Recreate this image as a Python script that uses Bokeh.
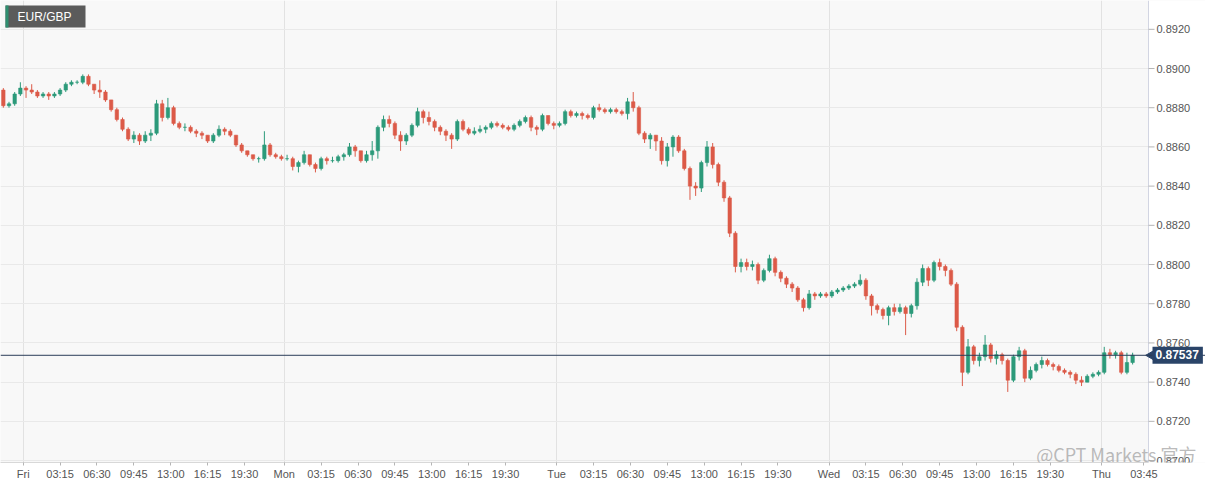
import math
import pandas as pd
from bokeh.plotting import figure
from bokeh.models import (FixedTicker, Span, Label, BoxAnnotation,
                          ColumnDataSource, Range1d, CustomJSTickFormatter)
from bokeh.core.properties import value
from bokeh.embed import file_html
from bokeh.resources import INLINE

symbol = "EUR/GBP"
last_price = 0.87537
first_open = 0.8889
watermark = "@CPT Markets 官方"

close = [
    0.8881, 0.8882, 0.8887, 0.8890, 0.8889, 0.8888, 0.8886, 0.8887, 0.8886, 0.8887,
    0.8889, 0.8892, 0.8893, 0.8893, 0.8896, 0.8892, 0.8889, 0.8888, 0.8884, 0.8879,
    0.8874, 0.8869, 0.8864, 0.8866, 0.8863, 0.8866, 0.8867, 0.8882, 0.8875, 0.8880,
    0.8872, 0.8870, 0.8870, 0.8868, 0.8867, 0.8866, 0.8863, 0.8866, 0.8869, 0.8868,
    0.8866, 0.8861, 0.8858, 0.8856, 0.8854, 0.8854, 0.8861, 0.8856, 0.8855, 0.8854,
    0.8854, 0.8850, 0.8852, 0.8856, 0.8851, 0.8849, 0.8854, 0.8853, 0.8853, 0.8855,
    0.8856, 0.8860, 0.8858, 0.8853, 0.8856, 0.8858, 0.8870, 0.8874, 0.8872, 0.8866,
    0.8863, 0.8866, 0.8871, 0.8878, 0.8875, 0.8873, 0.8870, 0.8868, 0.8866, 0.8864,
    0.8873, 0.8869, 0.8867, 0.8868, 0.8869, 0.8870, 0.8872, 0.8871, 0.8870, 0.8869,
    0.8871, 0.8873, 0.8875, 0.8870, 0.8869, 0.8876, 0.8872, 0.8871, 0.8872, 0.8878,
    0.8876, 0.8877, 0.8876, 0.8875, 0.8880, 0.8879, 0.8878, 0.8879, 0.8878, 0.8877,
    0.8883, 0.8880, 0.8867, 0.8864, 0.8866, 0.8863, 0.8853, 0.8860, 0.8865, 0.8858,
    0.8849, 0.8840, 0.8839, 0.8852, 0.8860, 0.8851, 0.8842, 0.8834, 0.8816, 0.8799,
    0.8801, 0.8799, 0.8800, 0.8792, 0.8797, 0.8803, 0.8796, 0.8793, 0.8790, 0.8788,
    0.8782, 0.8778, 0.8785, 0.8784, 0.8785, 0.8784, 0.8786, 0.8787, 0.8788, 0.8789,
    0.8790, 0.8792, 0.8784, 0.8779, 0.8777, 0.8774, 0.8778, 0.8776, 0.8778, 0.8775,
    0.8779, 0.8791, 0.8798, 0.8792, 0.8801, 0.8799, 0.8797, 0.8790, 0.8768, 0.8745,
    0.8758, 0.8751, 0.8753, 0.8759, 0.8752, 0.8754, 0.8751, 0.8741, 0.8753, 0.8756,
    0.8742, 0.8746, 0.8749, 0.8751, 0.8749, 0.8748, 0.8746, 0.8745, 0.8744, 0.8741,
    0.8740, 0.8743, 0.8744, 0.8745, 0.8755, 0.8754, 0.8755, 0.8745, 0.8750, 0.87537,
]

high = [
    0.8890, 0.8883, 0.8888, 0.8893, 0.8891, 0.8892, 0.8889, 0.8888, 0.8888, 0.8888,
    0.8890, 0.8893, 0.8894, 0.8894, 0.8897, 0.8897, 0.8892, 0.8894, 0.8889, 0.8884,
    0.8880, 0.8875, 0.8870, 0.8868, 0.8867, 0.8868, 0.8869, 0.8884, 0.8884, 0.8885,
    0.8881, 0.8873, 0.8872, 0.8871, 0.8869, 0.8868, 0.8866, 0.8867, 0.8871, 0.8870,
    0.8869, 0.8866, 0.8862, 0.8858, 0.8856, 0.8855, 0.8868, 0.8862, 0.8857, 0.8856,
    0.8856, 0.8855, 0.8853, 0.8858, 0.8856, 0.8852, 0.8855, 0.8855, 0.8855, 0.8856,
    0.8857, 0.8862, 0.8861, 0.8858, 0.8858, 0.8863, 0.8871, 0.8876, 0.8876, 0.8873,
    0.8868, 0.8867, 0.8872, 0.8880, 0.8879, 0.8878, 0.8874, 0.8871, 0.8869, 0.8867,
    0.8874, 0.8874, 0.8870, 0.8870, 0.8871, 0.8871, 0.8873, 0.8873, 0.8872, 0.8871,
    0.8872, 0.8874, 0.8876, 0.8876, 0.8871, 0.8877, 0.8876, 0.8873, 0.8873, 0.8879,
    0.8879, 0.8878, 0.8878, 0.8877, 0.8881, 0.8882, 0.8880, 0.8880, 0.8880, 0.8879,
    0.8885, 0.8888, 0.8881, 0.8868, 0.8867, 0.8866, 0.8865, 0.8862, 0.8866, 0.8866,
    0.8859, 0.8850, 0.8842, 0.8853, 0.8863, 0.8862, 0.8852, 0.8843, 0.8835, 0.8817,
    0.8803, 0.8803, 0.8802, 0.8801, 0.8798, 0.8805, 0.8804, 0.8797, 0.8794, 0.8791,
    0.8789, 0.8783, 0.8787, 0.8786, 0.8786, 0.8786, 0.8787, 0.8788, 0.8789, 0.8790,
    0.8791, 0.8795, 0.8793, 0.8785, 0.8780, 0.8778, 0.8779, 0.8780, 0.8780, 0.8779,
    0.8780, 0.8793, 0.8800, 0.8799, 0.8802, 0.8803, 0.8800, 0.8798, 0.8791, 0.8769,
    0.8762, 0.8759, 0.8755, 0.8764, 0.8760, 0.8756, 0.8755, 0.8752, 0.8754, 0.8758,
    0.8757, 0.8748, 0.8750, 0.8753, 0.8752, 0.8750, 0.8749, 0.8747, 0.8746, 0.8745,
    0.8743, 0.8744, 0.8745, 0.8746, 0.8758, 0.8757, 0.8756, 0.8756, 0.8755, 0.8755,
]

low = [
    0.8880, 0.8880, 0.8881, 0.8886, 0.8885, 0.8887, 0.8885, 0.8885, 0.8884, 0.8885,
    0.8886, 0.8888, 0.8891, 0.8892, 0.8892, 0.8891, 0.8887, 0.8885, 0.8883, 0.8878,
    0.8873, 0.8868, 0.8863, 0.8862, 0.8861, 0.8862, 0.8863, 0.8866, 0.8873, 0.8874,
    0.8871, 0.8869, 0.8868, 0.8867, 0.8865, 0.8864, 0.8862, 0.8862, 0.8865, 0.8866,
    0.8865, 0.8860, 0.8857, 0.8855, 0.8853, 0.8852, 0.8853, 0.8855, 0.8854, 0.8853,
    0.8853, 0.8848, 0.8847, 0.8851, 0.8850, 0.8847, 0.8848, 0.8851, 0.8852, 0.8852,
    0.8853, 0.8855, 0.8855, 0.8852, 0.8852, 0.8853, 0.8854, 0.8868, 0.8870, 0.8864,
    0.8858, 0.8861, 0.8865, 0.8870, 0.8872, 0.8871, 0.8868, 0.8866, 0.8863, 0.8859,
    0.8863, 0.8868, 0.8866, 0.8866, 0.8867, 0.8867, 0.8869, 0.8870, 0.8869, 0.8868,
    0.8868, 0.8870, 0.8872, 0.8868, 0.8866, 0.8868, 0.8871, 0.8869, 0.8870, 0.8871,
    0.8875, 0.8875, 0.8874, 0.8874, 0.8874, 0.8878, 0.8877, 0.8877, 0.8877, 0.8876,
    0.8874, 0.8878, 0.8866, 0.8862, 0.8859, 0.8858, 0.8851, 0.8850, 0.8855, 0.8857,
    0.8848, 0.8833, 0.8835, 0.8837, 0.8850, 0.8849, 0.8840, 0.8832, 0.8814, 0.8796,
    0.8796, 0.8797, 0.8797, 0.8790, 0.8791, 0.8796, 0.8794, 0.8791, 0.8788, 0.8786,
    0.8781, 0.8776, 0.8777, 0.8782, 0.8783, 0.8783, 0.8783, 0.8785, 0.8786, 0.8787,
    0.8788, 0.8789, 0.8782, 0.8774, 0.8775, 0.8772, 0.8769, 0.8774, 0.8775, 0.8764,
    0.8773, 0.8777, 0.8789, 0.8789, 0.8791, 0.8797, 0.8794, 0.8789, 0.8766, 0.8738,
    0.8744, 0.8749, 0.8748, 0.8751, 0.8750, 0.8749, 0.8749, 0.8735, 0.8740, 0.8751,
    0.8740, 0.8741, 0.8745, 0.8747, 0.8748, 0.8746, 0.8745, 0.8744, 0.8742, 0.8739,
    0.8738, 0.8740, 0.8742, 0.8743, 0.8744, 0.8752, 0.8752, 0.8744, 0.8744, 0.8749,
]

# 30-minute candles: Thu 22:00 -> Fri 21:30, then Sun 23:00 -> Thu 02:30
session_a = ("2023-03-02 22:00", "2023-03-03 21:30")
session_b = ("2023-03-05 23:00", "2023-03-09 02:30")

y_ticks = [0.8700, 0.8720, 0.8740, 0.8760, 0.8780, 0.8800, 0.8820,
           0.8840, 0.8860, 0.8880, 0.8900, 0.8920]

day_names = ["Fri", "Mon", "Tue", "Wed", "Thu"]
day_dates = ["2023-03-03", "2023-03-06", "2023-03-07", "2023-03-08", "2023-03-09"]
intraday_ticks = [["03:15", "06:30", "09:45", "13:00", "16:15", "19:30"]] * 4 + [["03:45"]]

# ---------------------------------------------------------------------------
times = pd.date_range(*session_a, freq="30min").append(pd.date_range(*session_b, freq="30min"))
assert len(times) == len(close) == len(high) == len(low)
opens = [first_open] + close[:-1]

up_color = "#2c9a7a"
down_color = "#dc5a48"
xs = [i + 0.5 for i in range(len(close))]
src = ColumnDataSource(dict(
    x=xs,
    high=high,
    low=low,
    top=[max(o, c) for o, c in zip(opens, close)],
    bottom=[min(o, c) for o, c in zip(opens, close)],
    color=[up_color if c >= o else down_color for o, c in zip(opens, close)],
))

# tick positions (in 30-minute slot units)
xt_pos, xt_lab, day_pos = [], [], []
for name, d, ticks in zip(day_names, day_dates, intraday_ticks):
    start = times.get_loc(pd.Timestamp(d + " 00:00"))
    day_pos.append(float(start))
    xt_pos.append(float(start))
    xt_lab.append(name)
    for t in ticks:
        hh, mm = map(int, t.split(":"))
        xt_pos.append(start + (hh * 60 + mm) / 30.0)
        xt_lab.append(t)

# geometry: the frame spans the whole width; the price scale is drawn in its right strip
FW, FH = 1205, 462          # frame size in px
PLOT_PX = 1148              # width of the candle area in px
x_data_end = len(close) + 2.3
slot_px = PLOT_PX / x_data_end
x_end = FW / slot_px
y_lo, y_hi = 0.86990, 0.89347

p = figure(frame_width=FW, frame_height=FH,
           x_range=Range1d(0, x_end), y_range=Range1d(y_lo, y_hi),
           y_axis_location=None, output_backend="svg", toolbar_location=None,
           min_border_left=0, min_border_top=0, min_border_right=0, min_border_bottom=17,
           background_fill_color="#f8f8f8", border_fill_color="white",
           outline_line_color=None)

# grids
p.xgrid.ticker = FixedTicker(ticks=day_pos)
p.xgrid.grid_line_color = "#e2e2e2"
p.ygrid.ticker = FixedTicker(ticks=y_ticks)
p.ygrid.grid_line_color = "#e9e9e9"

# white strip for the price scale (drawn over the grid, under everything else)
p.add_layout(BoxAnnotation(left=x_data_end, fill_color="white", fill_alpha=1.0,
                           line_color=None, level="underlay"))
p.add_layout(Span(location=x_data_end, dimension="height", line_color="#d2d5e2",
                  line_width=1, level="underlay"))

# x axis
p.xaxis.ticker = FixedTicker(ticks=xt_pos)
p.xaxis.bounds = (0, x_data_end)
p.xaxis.formatter = CustomJSTickFormatter(args=dict(pos=xt_pos, lab=xt_lab), code="""
for (let i = 0; i < pos.length; i++) { if (Math.abs(pos[i] - tick) < 1e-6) return lab[i]; }
return "";
""")
p.xaxis.axis_line_color = "#d8d8d8"
p.xaxis.major_tick_line_color = "#b5b5b5"
p.xaxis.major_tick_out = 3
p.xaxis.major_tick_in = 0
p.xaxis.minor_tick_line_color = None
p.xaxis.major_label_text_font = "Liberation Sans"
p.xaxis.major_label_text_font_size = "11px"
p.xaxis.major_label_text_color = "#555555"
p.xaxis.major_label_standoff = 2

# price scale (right)
p.segment(x0=[x_data_end] * len(y_ticks), y0=y_ticks,
          x1=[x_data_end + 6 / slot_px] * len(y_ticks), y1=y_ticks,
          line_color="#b5b5b5", line_width=1)
p.text(x=[x_data_end + 8 / slot_px] * len(y_ticks), y=y_ticks,
       text=[f"{v:.4f}" for v in y_ticks], text_baseline="middle", text_align="left",
       text_font=value("Liberation Sans"), text_font_size="11px", text_color="#555555")

# candles
p.segment(x0="x", y0="high", x1="x", y1="low", line_color="color", line_width=1, source=src)
p.vbar(x="x", width=0.6, top="top", bottom="bottom", fill_color="color",
       line_color="color", line_width=0.6, source=src)

# last price line + tag
tag_color = "#2a4468"
p.add_layout(Span(location=last_price, dimension="width", line_color="#2b3d58", line_width=1))
p.scatter(x=[x_data_end + 3 / slot_px], y=[last_price], marker="triangle", size=10,
          angle=math.pi / 2, fill_color=tag_color, line_color=tag_color)
p.add_layout(Label(x=x_data_end, y=last_price, x_offset=4, text=f"{last_price:.5f}",
                   text_baseline="middle", text_align="left", text_color="white",
                   text_font="Liberation Sans", text_font_style="bold", text_font_size="12px",
                   background_fill_color=tag_color, padding=(3, 4, 3, 5)))

# symbol tag
box_units = dict(left_units="screen", right_units="screen",
                 bottom_units="screen", top_units="screen")
p.add_layout(BoxAnnotation(left=5, right=85, bottom=FH - 27, top=FH - 5, **box_units,
                           fill_color="#5b5b5b", fill_alpha=1.0, line_color=None))
p.add_layout(BoxAnnotation(left=5, right=8, bottom=FH - 27, top=FH - 5, **box_units,
                           fill_color="#2f8f70", fill_alpha=1.0, line_color=None))
p.add_layout(Label(x=17, y=FH - 16, x_units="screen", y_units="screen", text=symbol,
                   text_baseline="middle", text_align="left", text_color="white",
                   text_font="Liberation Sans", text_font_size="12px"))

# watermark
p.add_layout(Label(x=182.5, y=y_lo, y_offset=9, text=watermark,
                   text_baseline="middle", text_align="left", text_color="#a8a8a8",
                   text_alpha=0.8, text_font="Noto Sans CJK SC", text_font_size="18px"))

open("out.html", "w").write(file_html(p, INLINE))
